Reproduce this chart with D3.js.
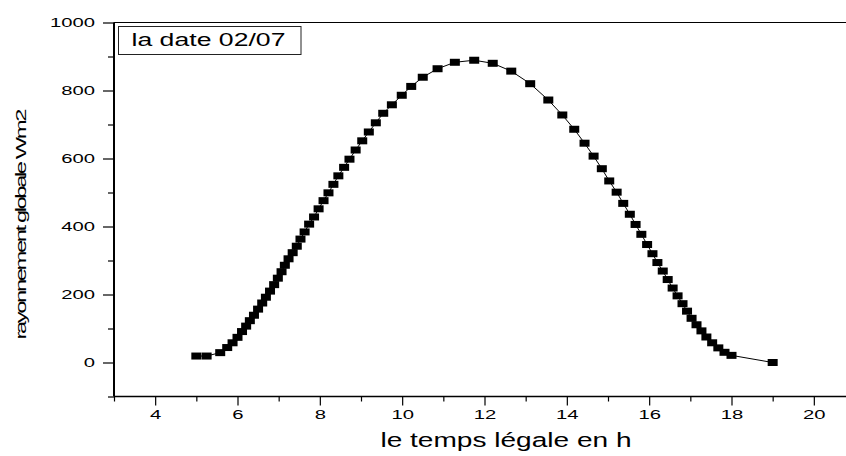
<!DOCTYPE html>
<html>
<head>
<meta charset="utf-8">
<script src="https://cdn.jsdelivr.net/npm/d3@7"></script>
<style>
  html, body { margin: 0; padding: 0; background: #fff; }
  svg { display: block; }
  text { font-family: "Liberation Sans", Arial, sans-serif; fill: #000; }
</style>
</head>
<body>
<svg id="chart" width="846" height="456"></svg>
<script>
// Heure légale (h) et rayonnement global mesuré (W/m2), journée du 02/07
const hours = [5.0, 5.25, 5.58, 5.75, 5.88, 6.00, 6.11, 6.21, 6.30, 6.40,
  6.50, 6.60, 6.69, 6.79, 6.89, 6.98, 7.07, 7.15, 7.24, 7.34,
  7.44, 7.53, 7.63, 7.74, 7.86, 7.97, 8.09, 8.21, 8.33, 8.45,
  8.59, 8.72, 8.87, 9.03, 9.19, 9.36, 9.54, 9.75, 9.99, 10.22,
  10.50, 10.86, 11.28, 11.75, 12.20, 12.65, 13.11, 13.55, 13.89, 14.18,
  14.43, 14.65, 14.85, 15.03, 15.21, 15.37, 15.53, 15.67, 15.81, 15.95,
  16.08, 16.20, 16.33, 16.45, 16.57, 16.69, 16.81, 16.92, 17.03, 17.15,
  17.27, 17.39, 17.53, 17.68, 17.83, 18.00, 19.00];
const radiation = [19, 19, 29, 44, 58, 74, 91, 107, 123, 139,
  157, 175, 192, 210, 229, 248, 267, 286, 305, 323,
  342, 363, 384, 407, 428, 452, 476, 499, 524, 549,
  574, 598, 625, 652, 678, 705, 733, 758, 786, 812,
  839, 864, 883, 889, 880, 857, 820, 772, 728, 686,
  645, 607, 570, 534, 501, 468, 436, 406, 377, 347,
  320, 294, 269, 244, 219, 196, 173, 151, 130, 111,
  93, 75, 58, 43, 30, 21, 0];

const xMajorTicks = [4, 6, 8, 10, 12, 14, 16, 18, 20];
const xMinorTicks = [3, 5, 7, 9, 11, 13, 15, 17, 19];
const yMajorTicks = [0, 200, 400, 600, 800, 1000];
const yMinorTicks = [-100, 100, 300, 500, 700, 900];

const legendLabel = "la date 02/07";
const xTitle = "le temps légale en h";
const yTitle = "rayonnement globale Wm2";

// horizontal stretch applied to text glyphs
const SX = 1.5;

const svg = d3.select("#chart");

const x = d3.scaleLinear().domain([3, 21]).range([114, 855]);
const y = d3.scaleLinear().domain([-100, 1000]).range([396.5, 22.5]);

const data = hours.map((h, i) => ({ h, v: radiation[i] }));

// frame lines
svg.append("line").attr("x1", x(3)).attr("x2", x(21)).attr("y1", y(1000)).attr("y2", y(1000))
  .attr("stroke", "#000").attr("stroke-width", 1);

// Y axis
const gy = svg.append("g").attr("transform", `translate(${x(3)},0)`);
gy.call(d3.axisLeft(y).tickValues(yMajorTicks).tickSize(11).tickPadding(8).tickFormat(d3.format("d")));
gy.append("g").call(d3.axisLeft(y).tickValues(yMinorTicks).tickSize(6).tickFormat(""));
gy.selectAll(".domain").remove();
gy.selectAll(".tick line").attr("stroke", "#000").attr("stroke-width", 1.2);
gy.selectAll(".tick text")
  .attr("font-size", 13.5)
  .attr("font-family", "Liberation Sans, Arial, sans-serif")
  .attr("fill", "#000")
  .attr("x", -19 / SX)
  .attr("transform", `scale(${SX},1)`);
svg.append("line").attr("x1", x(3)).attr("x2", x(3)).attr("y1", y(1000)).attr("y2", y(-100))
  .attr("stroke", "#000").attr("stroke-width", 2);

// X axis
const gx = svg.append("g").attr("transform", `translate(0,${y(-100)})`);
gx.call(d3.axisBottom(x).tickValues(xMajorTicks).tickSize(9).tickPadding(4).tickFormat(d3.format("d")));
gx.append("g").call(d3.axisBottom(x).tickValues(xMinorTicks).tickSize(5).tickFormat(""));
gx.selectAll(".domain").remove();
gx.selectAll(".tick line").attr("stroke", "#000").attr("stroke-width", 1.2);
gx.selectAll(".tick text")
  .attr("font-size", 13.5)
  .attr("font-family", "Liberation Sans, Arial, sans-serif")
  .attr("fill", "#000")
  .attr("transform", `scale(${SX},1)`);
gx.selectAll(".tick").each(function (d) {
  // keep label centred on its tick after the glyph stretch
  d3.select(this).select("text").attr("x", 0);
});
svg.append("line").attr("x1", x(3)).attr("x2", x(21)).attr("y1", y(-100)).attr("y2", y(-100))
  .attr("stroke", "#000").attr("stroke-width", 1.5);

// connecting line
svg.append("path")
  .datum(data)
  .attr("fill", "none")
  .attr("stroke", "#000")
  .attr("stroke-width", 1)
  .attr("d", d3.line().x(d => x(d.h)).y(d => y(d.v)));

// square markers
const mw = 10, mh = 7;
svg.append("g").selectAll("rect")
  .data(data)
  .join("rect")
  .attr("x", d => x(d.h) - mw / 2)
  .attr("y", d => y(d.v) - mh / 2)
  .attr("width", mw)
  .attr("height", mh)
  .attr("fill", "#000");

// legend box
const lg = svg.append("g");
lg.append("rect").attr("x", 118.5).attr("y", 26.5).attr("width", 182.5).attr("height", 28)
  .attr("fill", "#fff").attr("stroke", "#222").attr("stroke-width", 1);
lg.append("text")
  .attr("transform", `translate(131.5,46) scale(1.44,1)`)
  .attr("font-size", 18.5)
  .text(legendLabel);

// axis titles
svg.append("text")
  .attr("transform", `translate(506,447) scale(1.44,1)`)
  .attr("text-anchor", "middle")
  .attr("font-size", 19.5)
  .text(xTitle);

svg.append("text")
  .attr("transform", `translate(26,224) rotate(-90) scale(1.7,1)`)
  .attr("text-anchor", "middle")
  .attr("font-size", 14)
  .attr("textLength", 231 / 1.7)
  .attr("lengthAdjust", "spacing")
  .text(yTitle);
</script>
</body>
</html>
